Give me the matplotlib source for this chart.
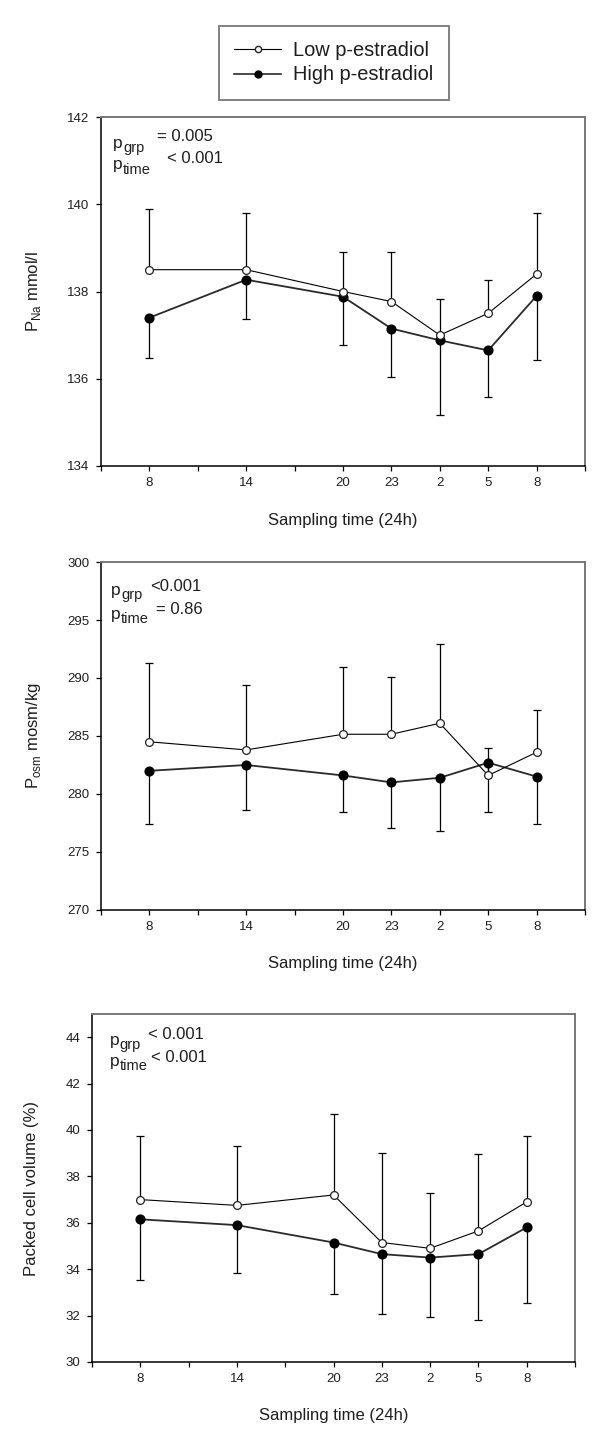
import matplotlib
matplotlib.use("Agg")
import matplotlib.pyplot as plt
import numpy as np
from matplotlib.lines import Line2D
from matplotlib.transforms import offset_copy

plt.rcParams['font.family'] = ['Liberation Sans', 'DejaVu Sans']

# ---------------- data ----------------
time_hours = [8, 14, 20, 23, 26, 29, 32]
time_labels = ['8', '14', '20', '23', '2', '5', '8']

low_na = [138.5, 138.5, 138.0, 137.77, 137.0, 137.5, 138.4]
low_na_err = [1.4, 1.31, 0.91, 1.14, 0.82, 0.77, 1.39]
high_na = [137.4, 138.27, 137.88, 137.15, 136.88, 136.65, 137.9]
high_na_err = [0.92, 0.90, 1.11, 1.12, 1.70, 1.06, 1.46]

low_osm = [284.5, 283.8, 285.15, 285.15, 286.1, 281.6, 283.6]
low_osm_err = [6.8, 5.6, 5.8, 4.9, 6.8, 2.4, 3.6]
high_osm = [282.0, 282.5, 281.6, 281.0, 281.4, 282.7, 281.5]
high_osm_err = [4.6, 3.9, 3.15, 3.95, 4.55, 4.25, 4.1]

low_pcv = [37.0, 36.75, 37.2, 35.15, 34.9, 35.65, 36.9]
low_pcv_err = [2.75, 2.55, 3.5, 3.85, 2.4, 3.3, 2.85]
high_pcv = [36.15, 35.9, 35.15, 34.65, 34.5, 34.65, 35.8]
high_pcv_err = [2.6, 2.05, 2.2, 2.6, 2.55, 2.85, 3.25]

series_names = ['Low p-estradiol', 'High p-estradiol']

# ---------------- figure ----------------
W, H = 600, 1453
fig = plt.figure(figsize=(W / 100, H / 100), dpi=100)

TXT = '#1e1e1e'


def px_axes(left, top, right, bottom):
    return fig.add_axes([left / W, 1 - bottom / H, (right - left) / W, (bottom - top) / H])


def draw_panel(ax, low, low_err, high, high_err, ylim, yticks, ylabel, ptexts):
    x = np.array(time_hours)
    zeros = np.zeros(len(x))
    ax.errorbar(x, low, yerr=[zeros, low_err], fmt='none', ecolor='black',
                elinewidth=0.9, capsize=3.2, capthick=0.9, zorder=2)
    ax.errorbar(x, high, yerr=[high_err, zeros], fmt='none', ecolor='black',
                elinewidth=0.9, capsize=3.2, capthick=0.9, zorder=2)
    ax.plot(x, high, color='#2a2a2a', lw=1.3, marker='o', ms=6.3,
            mfc='black', mec='black', zorder=3)
    ax.plot(x, low, color='black', lw=0.8, marker='o', ms=5.6,
            mfc='white', mec='#222222', mew=0.9, zorder=4)

    ax.set_xlim(5, 35)
    ax.set_ylim(*ylim)
    xt = np.arange(5, 36, 3)
    ax.set_xticks(xt)
    labs = []
    for t in xt:
        labs.append(time_labels[time_hours.index(t)] if t in time_hours else '')
    ax.set_xticklabels(labs)
    ax.set_yticks(yticks)
    ax.tick_params(axis='both', direction='out', length=3.3, width=0.9,
                   labelsize=9.5, labelcolor=TXT, color='black')
    ax.tick_params(axis='x', pad=4.5)
    ax.tick_params(axis='y', pad=5.2)
    for s in ['left', 'bottom']:
        ax.spines[s].set_color('black')
        ax.spines[s].set_linewidth(1.1)
    for s in ['top', 'right']:
        ax.spines[s].set_color('#777777')
        ax.spines[s].set_linewidth(1.4)

    ax.set_xlabel('Sampling time (24h)', fontsize=12, color=TXT, va='center')
    ax.xaxis.set_label_coords(0.5, -0.155)
    ax.set_ylabel(ylabel, fontsize=12, color=TXT, va='center')
    ax.yaxis.set_label_coords(-0.14, 0.5)

    for (xp, yp, sub, xv, yv, val) in ptexts:
        ax.text(xp, yp, 'p', transform=ax.transAxes, fontsize=12.5,
                color=TXT, va='baseline', ha='left')
        tr = offset_copy(ax.transAxes, fig=fig, x=7.2, y=-3.0, units='points')
        ax.text(xp, yp, sub, transform=tr, fontsize=10.5, color=TXT,
                va='baseline', ha='left')
        ax.text(xv, yv, val, transform=ax.transAxes, fontsize=12,
                color=TXT, va='baseline', ha='left')


ax1 = px_axes(101, 117, 585, 466)
draw_panel(ax1, low_na, low_na_err, high_na, high_na_err, (134, 142),
           np.arange(134, 143, 2), r'P$_{\mathregular{Na}}$ mmol/l',
           [(0.025, 0.912, 'grp', 0.116, 0.932, '= 0.005'),
            (0.025, 0.850, 'time', 0.136, 0.869, '< 0.001')])

ax2 = px_axes(101, 562, 585, 910)
draw_panel(ax2, low_osm, low_osm_err, high_osm, high_osm_err, (270, 300),
           np.arange(270, 301, 5), r'P$_{\mathregular{osm}}$ mosm/kg',
           [(0.021, 0.905, 'grp', 0.101, 0.918, '<0.001'),
            (0.021, 0.836, 'time', 0.114, 0.850, '= 0.86')])

ax3 = px_axes(92, 1014, 575, 1362)
draw_panel(ax3, low_pcv, low_pcv_err, high_pcv, high_pcv_err, (30, 45),
           np.arange(30, 45, 2), 'Packed cell volume (%)',
           [(0.037, 0.912, 'grp', 0.116, 0.928, '< 0.001'),
            (0.037, 0.850, 'time', 0.122, 0.862, '< 0.001')])
ax3.yaxis.set_label_coords(-0.125, 0.5)

# ---------------- legend ----------------
handles = [
    Line2D([], [], color='black', lw=0.8, marker='o', ms=4.5, mfc='white', mec='#222222'),
    Line2D([], [], color='#2a2a2a', lw=1.2, marker='o', ms=5, mfc='black', mec='black'),
]
leg = fig.legend(handles, series_names, loc='center',
                 bbox_to_anchor=(334 / W, 1 - 62.5 / H), fontsize=14.4,
                 frameon=True, fancybox=False, handlelength=2.35,
                 handletextpad=0.6, borderpad=0.75, labelspacing=0.3)
leg.get_frame().set_edgecolor('#555555')
leg.get_frame().set_linewidth(1.3)
for t in leg.get_texts():
    t.set_color(TXT)

fig.savefig('out.png', dpi=100, facecolor='white')
